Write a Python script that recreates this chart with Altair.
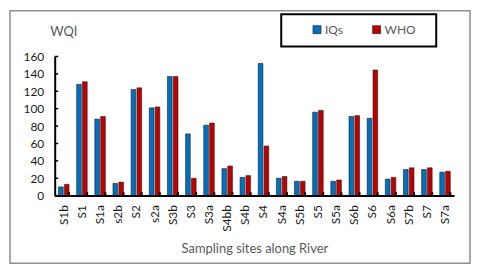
import altair as alt
import pandas as pd

sites = ["S1b", "S1", "S1a", "s2b", "S2", "s2a", "S3b", "S3", "S3a", "S4bb", "S4b",
         "S4", "S4a", "S5b", "S5", "S5a", "S6b", "S6", "S6a", "S7b", "S7", "S7a"]
iqs = [10, 128, 88, 14, 122, 101, 137, 71, 81, 31, 21, 152, 20, 16.5, 96, 16.5, 91, 89, 19, 30, 30, 27]
who = [13, 131, 91, 15.5, 124, 102, 137, 20, 83.5, 34, 23, 57, 22, 16.5, 98, 18, 92, 144.5, 21, 32, 32, 28]
series = ["IQs", "WHO"]
colors = ["#0070C0", "#C00000"]
y_ticks = [0, 20, 40, 60, 80, 100, 120, 140, 160]

FONT = "Lato"

rows = []
for s, a, b in zip(sites, iqs, who):
    rows.append({"site": s, "series": series[0], "value": a})
    rows.append({"site": s, "series": series[1], "value": b})
df = pd.DataFrame(rows)

one = alt.Data(values=[{"k": 1}])

x_axis = alt.Axis(title="Sampling sites along River", labelAngle=270, zindex=1,
                  ticks=False, labelPadding=9, domainColor="black", domainWidth=2,
                  labelColor="#1a1a1a", labelFont=FONT, labelFontSize=12,
                  titleFont=FONT, titleFontSize=13, titleFontWeight="normal",
                  titleColor="#595959", titlePadding=11)
y_axis = alt.Axis(values=y_ticks, grid=False, ticks=False, labelPadding=11, zindex=1,
                  domainColor="black", domainWidth=2,
                  labelColor="#1a1a1a", labelFont=FONT, labelFontSize=12,
                  title="WQI", titleAngle=0, titleX=-5, titleY=-25,
                  titleAlign="left", titleBaseline="middle",
                  titleFont=FONT, titleFontSize=13, titleFontWeight="normal",
                  titleColor="#595959")

border = alt.Chart(one).mark_rect(fillOpacity=0, stroke="#8f8f8f", strokeWidth=1.5).encode(
    x=alt.value(-45), x2=alt.value(418), y=alt.value(-46), y2=alt.value(208)
)

legend_box = alt.Chart(one).mark_rect(fill="white", stroke="black", strokeWidth=2).encode(
    x=alt.value(228), x2=alt.value(384), y=alt.value(-42.5), y2=alt.value(-10)
)

bars = alt.Chart(df).mark_bar(stroke="#1f1f1f", strokeWidth=0.6).encode(
    x=alt.X("site:N", sort=sites,
            scale=alt.Scale(paddingInner=0.42, paddingOuter=0.21),
            axis=x_axis),
    xOffset=alt.XOffset("series:N", sort=series, scale=alt.Scale(paddingInner=0.2)),
    y=alt.Y("value:Q", scale=alt.Scale(domain=[0, 160], nice=False), axis=y_axis),
    color=alt.Color("series:N", sort=series,
                    scale=alt.Scale(domain=series, range=colors),
                    legend=alt.Legend(title=None, orient="none", direction="horizontal",
                                      legendX=258, legendY=-33, padding=0,
                                      symbolType="square", symbolSize=64,
                                      symbolStrokeColor="#333333", symbolStrokeWidth=0.8,
                                      symbolOpacity=1,
                                      labelFont=FONT, labelFontSize=12, labelColor="#595959",
                                      labelOffset=2, columnPadding=27)),
)

boundary = alt.Chart(pd.DataFrame({"site": sites})).mark_rule(color="black", strokeWidth=2).encode(
    x=alt.X("site:N", sort=sites, bandPosition=1, axis=x_axis),
    y=alt.value(140), y2=alt.value(136.5),
)

yticks = alt.Chart(pd.DataFrame({"value": y_ticks})).mark_rule(color="black", strokeWidth=1.5).encode(
    y=alt.Y("value:Q", axis=y_axis),
    x=alt.value(0), x2=alt.value(3.5),
)

chart = alt.layer(border, legend_box, bars, boundary, yticks).properties(
    width=402, height=140,
    padding={"left": 47, "top": 48, "right": 18, "bottom": 70},
    autosize=alt.AutoSizeParams(type="none"),
).configure_view(stroke=None)

chart.save("out.html", embed_options={"renderer": "svg", "actions": False})
